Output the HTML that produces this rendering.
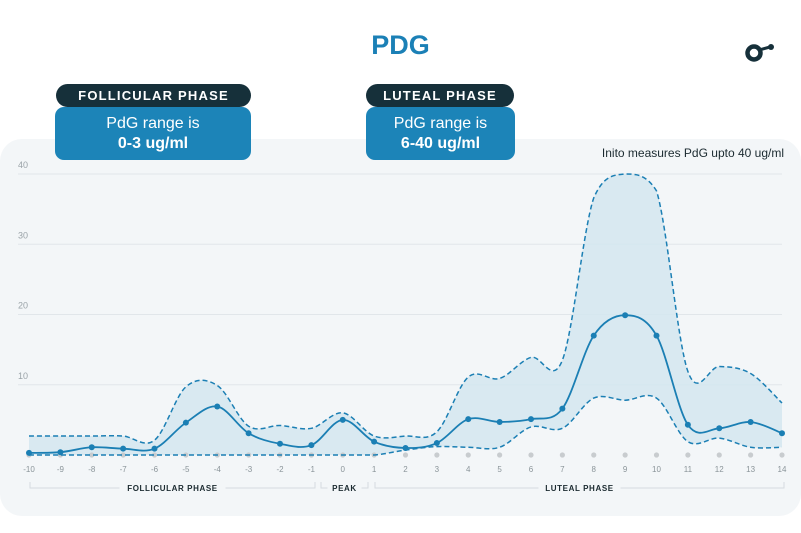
<!DOCTYPE html>
<html><head><meta charset="utf-8"><style>
body{margin:0;width:801px;height:533px;background:#fff;font-family:"Liberation Sans",sans-serif;overflow:hidden;position:relative}
.card{position:absolute;left:0;top:139px;width:801px;height:377px;background:#f3f6f8;border-radius:22px}
.title{position:absolute;left:0;width:801px;top:30px;text-align:center;color:#1b80b6;font-weight:bold;font-size:27px}
.pill{position:absolute;height:23px;background:#16303a;color:#fff;border-radius:12px;font-size:13px;letter-spacing:1.2px;text-align:center;line-height:23px;font-weight:bold}
.box{position:absolute;height:53px;background:#1c84b8;color:#fff;border-radius:9px;text-align:center;font-size:16px;line-height:20px;padding-top:7px;box-sizing:border-box}
</style></head><body>
<div class="card"></div>
<div class="title">PDG</div>
<svg style="position:absolute;left:740px;top:38px" width="40" height="30"><circle cx="14" cy="15" r="6.5" fill="none" stroke="#16303a" stroke-width="4.5"/><line x1="19" y1="12" x2="30" y2="9" stroke="#16303a" stroke-width="3"/><circle cx="31" cy="9" r="3" fill="#16303a"/></svg>
<div class="box" style="left:55px;top:107px;width:196px">PdG range is<br><b>0-3 ug/ml</b></div>
<div class="pill" style="left:56px;top:84px;width:195px">FOLLICULAR PHASE</div>
<div class="box" style="left:366px;top:107px;width:149px">PdG range is<br><b>6-40 ug/ml</b></div>
<div class="pill" style="left:366px;top:84px;width:148px">LUTEAL PHASE</div>
<svg id="chart" style="position:absolute;left:0;top:0" width="801" height="533"></svg>
<script>
const days=[-10,-9,-8,-7,-6,-5,-4,-3,-2,-1,0,1,2,3,4,5,6,7,8,9,10,11,12,13,14];
const meanVals=[0.3,0.4,1.1,0.9,0.9,4.6,6.9,3.1,1.6,1.4,5.0,1.9,1.0,1.7,5.1,4.7,5.1,6.6,17,19.9,17,4.3,3.8,4.7,3.1];
const upperVals=[2.7,2.7,2.7,2.7,2.1,9.7,9.9,4.1,4.2,3.8,6.0,2.7,2.7,3.3,11.1,10.9,13.9,13.5,36.6,40,37.6,11.9,12.6,11.6,7.4];
const lowerVals=[0,0,0,0,0,0,0,0,0,0,0,0,0.7,1.2,1.1,1.1,4.0,3.8,8.1,7.8,8.1,1.9,2.4,1.1,1.1];
const yTicks=[10,20,30,40];
const NS="http://www.w3.org/2000/svg";
const svg=document.getElementById('chart');
const X=d=>29+(d+10)*(782-29)/24;
const Y=v=>455-v*(455-174)/40;
function el(t,a,p){const e=document.createElementNS(NS,t);for(const k in a)e.setAttribute(k,a[k]);(p||svg).appendChild(e);return e;}
const cl=y=>Math.max(Y(40),Math.min(Y(0),y));
function segs(pts){let d='';for(let i=0;i<pts.length-1;i++){const p0=pts[Math.max(0,i-1)],p1=pts[i],p2=pts[i+1],p3=pts[Math.min(pts.length-1,i+2)];const t=6;d+=' C'+(p1[0]+(p2[0]-p0[0])/t)+','+cl(p1[1]+(p2[1]-p0[1])/t)+' '+(p2[0]-(p3[0]-p1[0])/t)+','+cl(p2[1]-(p3[1]-p1[1])/t)+' '+p2[0]+','+p2[1];}return d;}
function smooth(pts){return 'M'+pts[0][0]+','+pts[0][1]+segs(pts);}
yTicks.forEach(v=>{
const g=el('line',{x1:18,x2:782,y1:Y(v),y2:Y(v),stroke:'#e1e6ea','stroke-width':1});

const t=el('text',{x:18,y:Y(v)-6,'font-size':9,fill:'#9aa3a8'});t.textContent=v;

});
const up=days.map((d,i)=>[X(d),Y(upperVals[i])]);
const lo=days.map((d,i)=>[X(d),Y(lowerVals[i])]);
const loRev=lo.slice().reverse();
const band=el('path',{d:smooth(up)+' L'+loRev[0][0]+','+loRev[0][1]+segs(loRev)+' Z',fill:'#d3e6f0',opacity:0.85});

days.forEach(d=>{const c=el('circle',{cx:X(d),cy:455,r:2.6,fill:'#c8cccf'});});
const u=el('path',{d:smooth(up),fill:'none',stroke:'#1b7fb4','stroke-width':1.5,'stroke-dasharray':'5,3'});

const l=el('path',{d:smooth(lo),fill:'none',stroke:'#1b7fb4','stroke-width':1.5,'stroke-dasharray':'5,3'});

const mp=days.map((d,i)=>[X(d),Y(meanVals[i])]);
const m=el('path',{d:smooth(mp),fill:'none',stroke:'#1b7fb4','stroke-width':1.8});

mp.forEach(p=>{const c=el('circle',{cx:p[0],cy:p[1],r:3,fill:'#1b7fb4'});});
days.forEach(d=>{const t=el('text',{x:X(d),y:472,'font-size':8,fill:'#8a9499','text-anchor':'middle'});t.textContent=d;});
function bracket(x1,x2,label,name){
const y=488,mid=(x1+x2)/2,w=label.length*6+10;
const p=el('path',{d:`M${x1},${y-6} V${y} H${mid-w/2} M${mid+w/2},${y} H${x2} V${y-6}`,fill:'none',stroke:'#d6dbdf','stroke-width':1});

const t=el('text',{x:mid,y:y+3,'font-size':8,'font-weight':'bold','letter-spacing':0.6,fill:'#1b2a30','text-anchor':'middle'});t.textContent=label;

}
bracket(30,315,'FOLLICULAR PHASE','follicular-phase');
bracket(321,368,'PEAK','peak');
bracket(375,784,'LUTEAL PHASE','luteal-phase');
const note=el('text',{x:784,y:157,'font-size':12,fill:'#1b2a30','text-anchor':'end'});note.textContent='Inito measures PdG upto 40 ug/ml';

</script>
</body></html>
